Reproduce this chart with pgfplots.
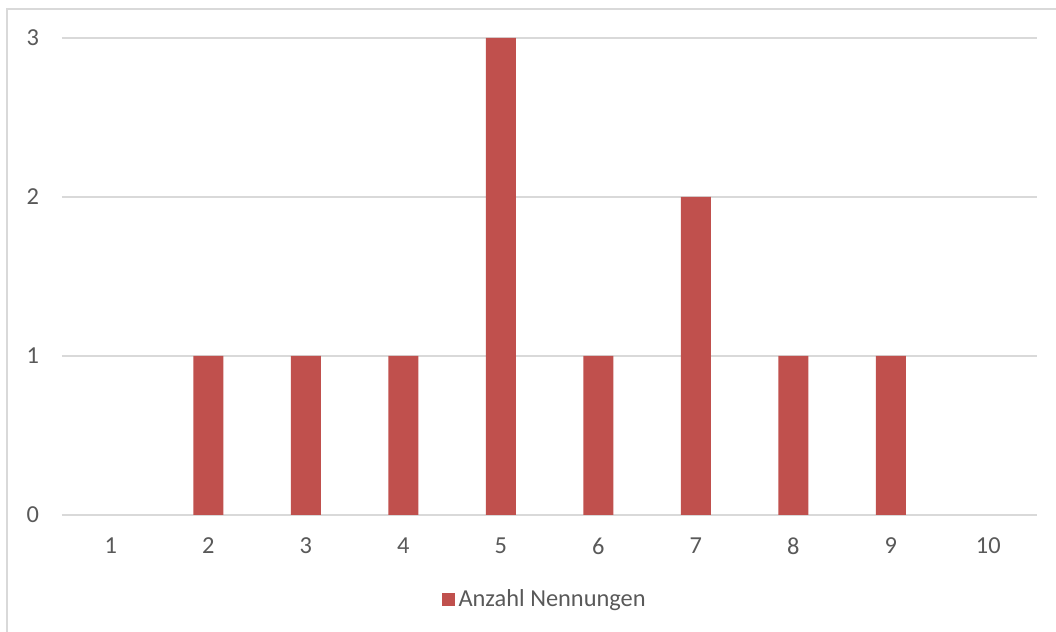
\documentclass[border=0pt]{standalone}
\usepackage{pgfplots}
\pgfplotsset{compat=1.18}
\usepackage{fontspec}
\setmainfont{Carlito}
\definecolor{barred}{HTML}{C0504D}
\definecolor{txt}{HTML}{595959}
\definecolor{gridc}{HTML}{D9D9D9}
\begin{document}
\begin{tikzpicture}[x=1pt,y=1pt]
\useasboundingbox (-31,-58.5) rectangle (497,257.5);
\draw[gridc, line width=0.75pt] (-27.5,-58.5) -- (-27.5,253) -- (497,253);
\begin{axis}[at={(0,0)}, anchor=south west, scale only axis,
  width=487.5pt, height=238.5pt,
  xmin=0.5, xmax=10.5, ymin=0, ymax=3,
  xtick={1,...,10}, ytick={0,1,2,3},
  axis line style={draw=none}, major tick length=0pt,
  ymajorgrids, grid style={gridc, line width=1pt},
  ybar, bar width=15pt,
  tick label style={font=\fontsize{12.2}{14}\selectfont, text=txt},
  /pgf/number format/assume math mode=true,
  yticklabel style={xshift=-8pt},
  xticklabel style={yshift=-8pt},
  legend style={at={(0.496,-0.178)}, anchor=center, draw=none, fill=none,
    font=\fontsize{12.2}{14}\selectfont, text=txt,
    legend cell align=left},
  legend image code/.code={\fill[barred] (0pt,-3.25pt) rectangle (6.5pt,3.25pt);},
]
\addplot[fill=barred, draw=none] coordinates {
(2,1) (3,1) (4,1) (5,3) (6,1) (7,2) (8,1) (9,1)};
\addlegendentry{Anzahl Nennungen}
\end{axis}
\end{tikzpicture}
\end{document}
